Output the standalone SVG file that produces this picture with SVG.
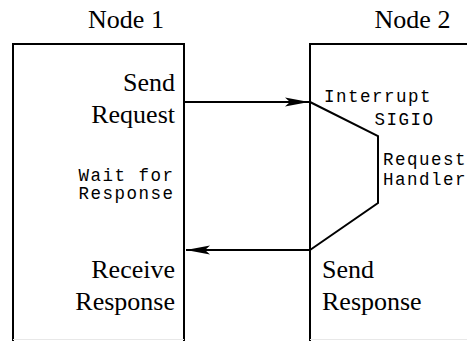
<svg xmlns="http://www.w3.org/2000/svg" width="467" height="341" viewBox="0 0 467 341">
<defs>
<style>
.box{fill:none;stroke:#000;stroke-width:2}
.edge{fill:none;stroke:#e8e8e8;stroke-width:1}
.serif{font-family:"Liberation Serif","Times New Roman",serif;font-size:26px;fill:#000}
.mono{font-family:"Liberation Mono","Courier New",monospace;font-size:17.5px;letter-spacing:1.5px;fill:#000}
.line{fill:none;stroke:#000;stroke-width:2}
</style>
<marker id="ah" markerUnits="userSpaceOnUse" markerWidth="26" markerHeight="12" viewBox="-25 -6 26 12" refX="0" refY="0" orient="auto">
<path d="M0,0 L-24,-4.5 L-19,0 L-24,4.5 Z" fill="#000"/>
</marker>
</defs>
<rect width="467" height="341" fill="#fff"/>
<g id="node1">
<path class="box" d="M13,341 V44 H184 V341"/>
<line class="edge" x1="13" y1="339.5" x2="184" y2="339.5"/>
<text class="serif" x="126" y="28" text-anchor="middle">Node 1</text>
<text class="serif" x="175" y="91" text-anchor="end">Send</text>
<text class="serif" x="175" y="123" text-anchor="end">Request</text>
<text class="mono" x="174.5" y="181" text-anchor="end">Wait for</text>
<text class="mono" x="174.5" y="198.5" text-anchor="end">Response</text>
<text class="serif" x="175" y="278" text-anchor="end">Receive</text>
<text class="serif" x="175" y="310" text-anchor="end">Response</text>
</g>
<g id="node2">
<path class="box" d="M310,341 V44 H470"/>
<line class="edge" x1="310" y1="339.5" x2="467" y2="339.5"/>
<text class="serif" x="412.5" y="28" text-anchor="middle">Node 2</text>
<text class="mono" x="324" y="102">Interrupt</text>
<text class="mono" x="434.5" y="125" text-anchor="end">SIGIO</text>
<text class="mono" x="383" y="165">Request</text>
<text class="mono" x="383" y="185">Handler</text>
<text class="serif" x="322" y="278">Send</text>
<text class="serif" x="322" y="310">Response</text>
<path id="handler" class="line" d="M310,102 L378,136 V203 L310,250"/>
</g>
<g id="connectors">
<line class="line" x1="184" y1="102" x2="309" y2="102" marker-end="url(#ah)"/>
<line class="line" x1="310" y1="250" x2="186" y2="250" marker-end="url(#ah)"/>
</g>
</svg>
